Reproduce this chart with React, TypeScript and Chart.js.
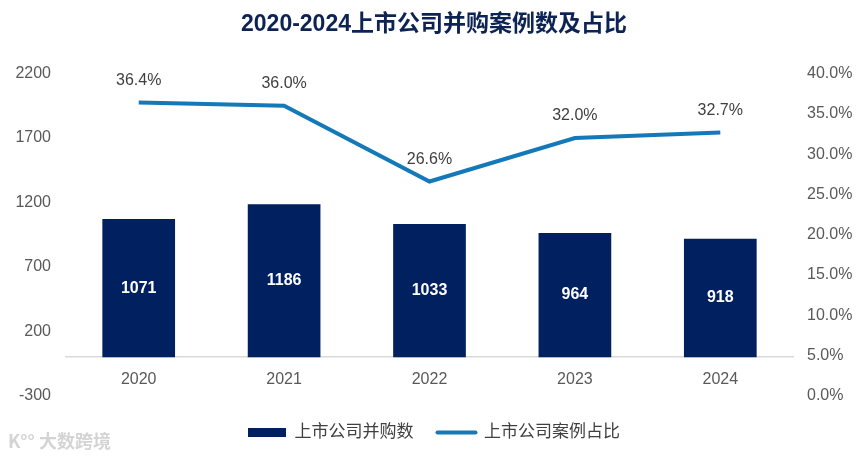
import { useEffect, useRef } from 'react';
import { Chart, registerables } from 'chart.js';

Chart.register(...registerables);

const years = ['2020', '2021', '2022', '2023', '2024'];
const dealCounts = [1071, 1186, 1033, 964, 918];
const dealShares = [36.4, 36.0, 26.6, 32.0, 32.7];
// [min, max, step]
const countAxis = [-300, 2200, 500];
const shareAxis = [0, 40, 5];

const NAVY = '#002060';
const BLUE = '#1479b8';
const FONT = "'Liberation Sans', Arial, 'Noto Sans CJK SC', sans-serif";

const valueLabels = {
  id: 'valueLabels',
  afterDatasetsDraw(chart: Chart) {
    const ctx = chart.ctx;
    ctx.save();
    ctx.textAlign = 'center';
    ctx.textBaseline = 'middle';

    ctx.font = `bold 16px ${FONT}`;
    ctx.fillStyle = '#ffffff';
    chart.getDatasetMeta(0).data.forEach((el: any, i) => {
      const { x, y, base } = el.getProps(['x', 'y', 'base'], true);
      ctx.fillText(String(dealCounts[i]), x, (y + base) / 2);
    });

    ctx.font = `16px ${FONT}`;
    ctx.fillStyle = '#404040';
    chart.getDatasetMeta(1).data.forEach((el: any, i) => {
      const { x, y } = el.getProps(['x', 'y'], true);
      ctx.fillText(dealShares[i].toFixed(1) + '%', x, y - 22);
    });
    ctx.restore();
  },
};

export default function App() {
  const canvasRef = useRef<HTMLCanvasElement>(null);
  const chartRef = useRef<Chart | null>(null);

  useEffect(() => {
    document.body.style.margin = '0';
    if (!canvasRef.current) return;
    if (chartRef.current) chartRef.current.destroy();

    chartRef.current = new Chart(canvasRef.current, {
      type: 'bar',
      data: {
        labels: years,
        datasets: [
          {
            type: 'bar',
            label: '上市公司并购数',
            data: dealCounts,
            backgroundColor: NAVY,
            yAxisID: 'y',
            barPercentage: 0.5,
            categoryPercentage: 1,
            order: 2,
          },
          {
            type: 'line',
            label: '上市公司案例占比',
            data: dealShares,
            borderColor: BLUE,
            backgroundColor: BLUE,
            borderWidth: 4,
            pointRadius: 0,
            tension: 0,
            yAxisID: 'y1',
            order: 1,
          } as any,
        ],
      },
      plugins: [valueLabels],
      options: {
        animation: false,
        responsive: true,
        maintainAspectRatio: false,
        layout: { padding: { top: 0, bottom: 7, left: 0, right: 0 } },
        plugins: {
          tooltip: { enabled: false },
          title: {
            display: true,
            text: '2020-2024上市公司并购案例数及占比',
            color: '#0d2354',
            font: { family: FONT, size: 23, weight: 'bold' },
            padding: { top: 11, bottom: 35 },
          },
          legend: {
            position: 'bottom',
            // empty title only pushes the legend row down a little
            title: { display: true, text: ' ', font: { size: 1 }, padding: { top: 3, bottom: 0 } },
            labels: {
              color: '#404040',
              font: { family: FONT, size: 17 },
              usePointStyle: true,
              pointStyleWidth: 38,
              boxHeight: 9,
              padding: 24,
              sort: (a: any, b: any) => a.datasetIndex - b.datasetIndex,
              generateLabels: (chart: Chart) => {
                const items = Chart.defaults.plugins.legend.labels.generateLabels(chart);
                return items.map((it: any) => {
                  const isBar = it.datasetIndex === 0;
                  return {
                    ...it,
                    pointStyle: isBar ? 'rect' : 'line',
                    fillStyle: isBar ? NAVY : BLUE,
                    strokeStyle: isBar ? NAVY : BLUE,
                    lineWidth: isBar ? 0 : 4,
                    lineCap: 'round',
                  };
                });
              },
            },
          },
        },
        scales: {
          x: {
            position: { y: 0 } as any,
            grid: { display: false, drawTicks: false },
            border: { display: true, color: '#d9d9d9', width: 1.5 },
            ticks: { color: '#595959', font: { family: FONT, size: 16 }, padding: 13 },
          },
          y: {
            position: 'left',
            min: countAxis[0],
            max: countAxis[1],
            ticks: {
              stepSize: countAxis[2],
              color: '#595959',
              font: { family: FONT, size: 16 },
              padding: 15,
              callback: (v: any) => String(v),
            },
            grid: { display: false, drawTicks: false },
            border: { display: false },
            afterFit: (scale: any) => {
              scale.width = 66;
            },
          },
          y1: {
            position: 'right',
            min: shareAxis[0],
            max: shareAxis[1],
            ticks: {
              stepSize: shareAxis[2],
              color: '#595959',
              font: { family: FONT, size: 16 },
              padding: 14,
              callback: (v: any) => Number(v).toFixed(1) + '%',
            },
            grid: { display: false, drawTicks: false },
            border: { display: false },
            afterFit: (scale: any) => {
              scale.width = 75;
            },
          },
        },
      },
    });

    return () => {
      chartRef.current?.destroy();
      chartRef.current = null;
    };
  }, []);

  return (
    <div style={{ position: 'relative', width: 868, height: 458 }}>
      <canvas ref={canvasRef} />
      <div
        style={{
          position: 'absolute',
          left: 8,
          top: 427,
          color: '#d4d4d4',
          fontFamily: "'Noto Sans CJK SC', sans-serif",
          fontWeight: 'bold',
          fontSize: 18,
          whiteSpace: 'nowrap',
        }}
      >
        K°° 大数跨境
      </div>
    </div>
  );
}
